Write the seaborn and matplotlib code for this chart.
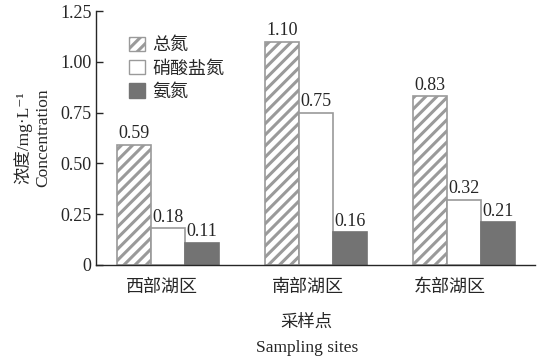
import matplotlib
matplotlib.use("Agg")
import matplotlib.pyplot as plt
import matplotlib.transforms as mtransforms
import seaborn as sns
import pandas as pd
from matplotlib.patches import Patch

sites = ["西部湖区", "南部湖区", "东部湖区"]
series = ["总氮", "硝酸盐氮", "氨氮"]
total_n = [0.59, 1.10, 0.83]
nitrate_n = [0.18, 0.75, 0.32]
ammonia_n = [0.11, 0.16, 0.21]
yticks = [0, 0.25, 0.50, 0.75, 1.00, 1.25]
ytick_labels = ["0", "0.25", "0.50", "0.75", "1.00", "1.25"]

rows = []
for s, vals in zip(series, [total_n, nitrate_n, ammonia_n]):
    for site, v in zip(sites, vals):
        rows.append({"site": site, "series": s, "value": v})
df = pd.DataFrame(rows)

sns.set_style("ticks")
plt.rcParams['font.family'] = ['Liberation Serif', 'Noto Sans CJK SC', 'DejaVu Sans']
plt.rcParams['hatch.color'] = '#9a9a9a'
plt.rcParams['hatch.linewidth'] = 2.2

fig = plt.figure(figsize=(5.44, 3.58), dpi=100)
ax = fig.add_axes([0.176, 0.26, 0.808, 0.709])

face = {"总氮": "white", "硝酸盐氮": "white", "氨氮": "#737373"}
edge = {"总氮": "#9a9a9a", "硝酸盐氮": "#9a9a9a", "氨氮": "#737373"}
hatch = {"总氮": "///", "硝酸盐氮": "", "氨氮": ""}

sns.barplot(data=df, x="site", y="value", hue="series", order=sites,
            hue_order=series, width=0.69, ax=ax, legend=False,
            palette=face, gap=0)

for cont, s in zip(ax.containers, series):
    for bar in cont:
        bar.set_facecolor(face[s])
        bar.set_edgecolor(edge[s])
        bar.set_linewidth(1.2)
        bar.set_hatch(hatch[s])
    ax.bar_label(cont, labels=[f"{v:.2f}" for v in cont.datavalues],
                 padding=2, fontsize=13, family=['Liberation Serif'])

ax.set_ylim(0, 1.25)
ax.set_xlim(-0.49, 2.48)
ax.set_yticks(yticks)
ax.set_yticklabels(ytick_labels, fontsize=13)
ax.tick_params(axis='y', direction='in', length=5, width=1, pad=3)
ax.tick_params(axis='x', length=0, pad=9)
shifts = [-6, -8, -15]
for lab, dx in zip(ax.get_xticklabels(), shifts):
    lab.set_fontsize(13)
    lab.set_family(['Noto Sans CJK SC'])
    lab.set_transform(lab.get_transform() + mtransforms.ScaledTranslation(dx / 100, 0, fig.dpi_scale_trans))
sns.despine(ax=ax, top=True, right=True)
ax.spines['left'].set_linewidth(1)
ax.spines['bottom'].set_linewidth(1)

ax.set_xlabel("采样点\nSampling sites", fontsize=12.5, labelpad=14, linespacing=1.7, x=0.48)
ax.set_ylabel("浓度/mg·L⁻¹\nConcentration", fontsize=12.5, labelpad=6, linespacing=1.3)

handles = [Patch(facecolor=face[s], edgecolor=edge[s], hatch=hatch[s], label=s) for s in series]
leg = ax.legend(handles=handles, loc="upper left", bbox_to_anchor=(0.06, 0.93),
                frameon=False, handlelength=0.85, handleheight=0.85,
                handletextpad=0.4, labelspacing=0.3, borderaxespad=0,
                prop={'family': ['Noto Sans CJK SC'], 'size': 13})

fig.savefig("out.png", dpi=100)
